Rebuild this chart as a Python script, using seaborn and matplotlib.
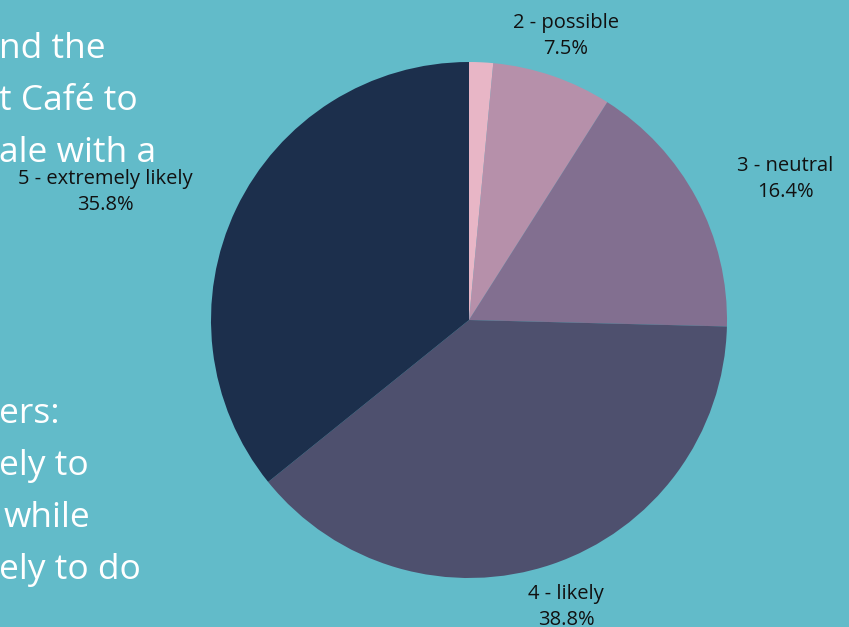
import matplotlib
matplotlib.use("Agg")
import matplotlib.pyplot as plt
import seaborn as sns

# Survey answers and their shares (percent)
categories = ["1 - not likely", "2 - possible", "3 - neutral", "4 - likely", "5 - extremely likely"]
shares = [1.5, 7.5, 16.4, 38.8, 35.8]
show_label = [False, True, True, True, True]

# Slide text fragments on the left edge
slide_lines_top = ["nd the", "t Café to", "ale with a"]
slide_lines_bottom = ["ers:", "ely to", "while", "ely to do"]

BG = "#62BBC9"
slice_colors = ["#E8B6C6", "#B690AA", "#826F90", "#4E506E", "#1C2F4C"]

sns.set_theme(style="white")
plt.rcParams["font.family"] = ["Open Sans", "DejaVu Sans"]
palette = sns.color_palette(slice_colors)

W, H = 849, 627
fig = plt.figure(figsize=(W / 100, H / 100), dpi=100, facecolor=BG)
ax = fig.add_axes([0, 0, 1, 1])
ax.set_facecolor(BG)


def py(y):
    """Convert a top-down pixel row into the axes' bottom-up coordinate."""
    return H - y


wedges, _ = ax.pie(
    shares,
    colors=palette,
    startangle=90,
    counterclock=False,
    center=(469, py(320)),
    radius=258,
    wedgeprops=dict(linewidth=0, antialiased=True),
)
ax.set_xlim(0, W)
ax.set_ylim(0, H)
ax.set_aspect("equal")
ax.axis("off")

# Slice labels: category name with its share underneath
label_pos = [None, (566, 36), (785, 179), (566, 607), (105, 192)]
for cat, val, show, pos in zip(categories, shares, show_label, label_pos):
    if not show:
        continue
    x, y = pos
    ax.text(x, py(y), f"{cat}\n{val:.1f}%", ha="center", va="center",
            fontsize=14.5, color="#111111", linespacing=1.45)

# Large white slide text, cut by the left edge
for i, line in enumerate(slide_lines_top):
    ax.text(-1, py(58 + 52 * i), line, ha="left", va="baseline",
            fontsize=25.5, color="white")
for i, line in enumerate(slide_lines_bottom):
    x = 4 if line == "while" else -1
    ax.text(x, py(423 + 52 * i), line, ha="left", va="baseline",
            fontsize=25.5, color="white")

fig.savefig("out.png", dpi=100, facecolor=BG)
